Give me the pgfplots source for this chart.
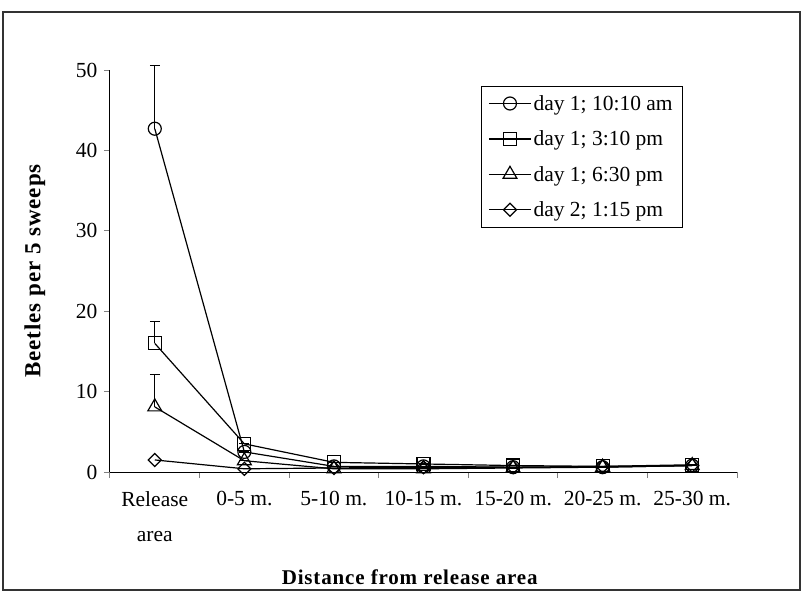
\documentclass[border=0pt]{standalone}
\usepackage{pgfplots}
\pgfplotsset{compat=1.18}
\usepackage{fontspec}
\setmainfont{Liberation Serif}
\begin{document}
\begin{tikzpicture}
\path (-110pt,-123pt) rectangle (692pt,472pt);
\begin{axis}[
  at={(0pt,0pt)}, anchor=south west,
  scale only axis, width=627pt, height=402pt,
  xmin=-0.5, xmax=6.5, ymin=0, ymax=50,
  axis x line=bottom, axis y line=left,
  axis line style={-, line width=1pt},
  tick align=outside,
  xtick={0,...,6},
  xticklabels={{Release\\area},{0-5 m.},{5-10 m.},{10-15 m.},{15-20 m.},{20-25 m.},{25-30 m.}},
  x tick label style={align=center, font=\fontsize{21.5}{35}\selectfont, yshift=-10pt},
  major x tick style={draw=none},
  minor xtick={-0.5,0.5,...,6.5},
  minor tick length=6pt,
  minor tick style={line width=1pt},
  ytick={0,10,...,50},
  major tick length=6pt,
  y tick style={line width=1pt},
  y tick label style={font=\fontsize{21.5}{24}\selectfont, xshift=-3pt},
  /pgf/number format/assume math mode=true,
  xlabel={Distance from release area},
  ylabel={Beetles per 5 sweeps},
  xlabel style={at={(axis description cs:0.478,-0.261)}, anchor=center, font=\fontsize{21}{24}\selectfont\bfseries\addfontfeatures{LetterSpace=4}},
  ylabel style={at={(axis description cs:-0.12,0.5)}, anchor=center, font=\fontsize{23}{24}\selectfont\bfseries\addfontfeatures{LetterSpace=4}},
  legend style={at={(0.592,0.96)}, anchor=north west, draw=black,
    font=\fontsize{21.5}{24}\selectfont, row sep=15pt, inner sep=7pt},
  legend cell align=left,
  legend image code/.code={\draw[line width=1.2pt, mark repeat=2,mark phase=2] plot coordinates {(0pt,0pt)(21pt,0pt)(42pt,0pt)};},
  clip=false,
]
\addplot[black, line width=1.2pt, mark=o, mark size=6.5pt, mark options={fill=white, solid}, error bars/.cd, y dir=plus, y explicit,
  error bar style={line width=1.2pt, black}, error mark options={rotate=90, mark size=5pt, line width=1.2pt, black}]
  coordinates {(0,42.7) +- (0,7.9) (1,2.5) +- (0,0) (2,0.7) +- (0,0) (3,0.7) +- (0,0) (4,0.6) +- (0,0) (5,0.6) +- (0,0) (6,0.8) +- (0,0)};
\addlegendentry{day 1; 10:10 am}
\addplot[black, line width=1.2pt, mark=square, mark size=6.5pt, mark options={fill=white, solid}, error bars/.cd, y dir=plus, y explicit,
  error bar style={line width=1.2pt, black}, error mark options={rotate=90, mark size=5pt, line width=1.2pt, black}]
  coordinates {(0,16.0) +- (0,2.7) (1,3.5) +- (0,0) (2,1.2) +- (0,0) (3,1.0) +- (0,0) (4,0.8) +- (0,0) (5,0.7) +- (0,0) (6,0.9) +- (0,0)};
\addlegendentry{day 1; 3:10 pm}
\addplot[black, line width=1.2pt, mark=triangle, mark size=8pt, mark options={fill=white, solid}, error bars/.cd, y dir=plus, y explicit,
  error bar style={line width=1.2pt, black}, error mark options={rotate=90, mark size=5pt, line width=1.2pt, black}]
  coordinates {(0,8.1) +- (0,4.0) (1,1.4) +- (0,0) (2,0.4) +- (0,0) (3,0.4) +- (0,0) (4,0.5) +- (0,0) (5,0.6) +- (0,0) (6,0.8) +- (0,0)};
\addlegendentry{day 1; 6:30 pm}
\addplot[black, line width=1.2pt, mark=square, mark size=4.6pt, mark options={rotate=45, fill=white, solid}]
  coordinates {(0,1.5) (1,0.4) (2,0.5) (3,0.6) (4,0.6) (5,0.7) (6,0.8)};
\addlegendentry{day 2; 1:15 pm}
\end{axis}
\draw[line width=1.3pt, black!80] (-107pt,-118pt) rectangle (690pt,460pt);
\end{tikzpicture}
\end{document}
